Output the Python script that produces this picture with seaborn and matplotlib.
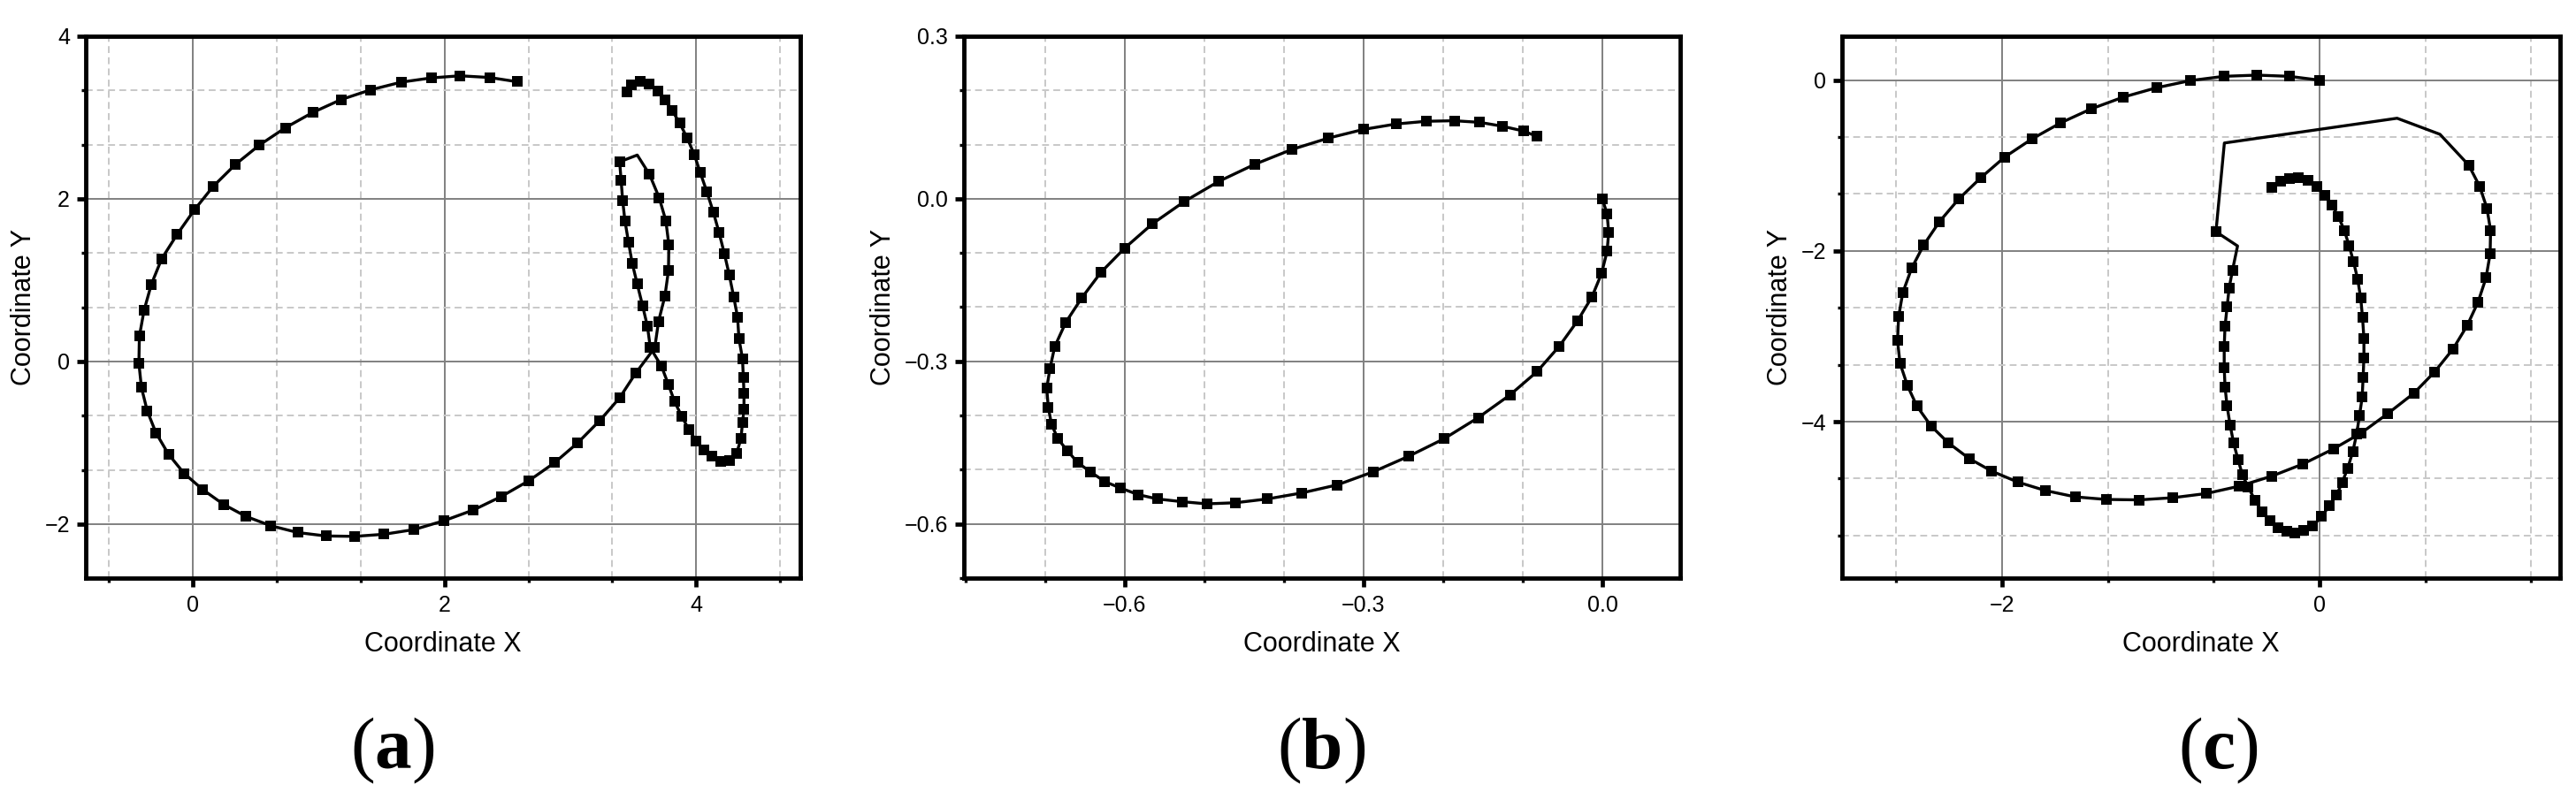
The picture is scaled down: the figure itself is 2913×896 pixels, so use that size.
import pandas as pd
import matplotlib
matplotlib.use("Agg")
import matplotlib.pyplot as plt
import seaborn as sns
from matplotlib.ticker import MultipleLocator, FuncFormatter

# --- panel (a): trajectory, index 50 is a vertex drawn without marker
a_x = [2.576, 2.358, 2.122, 1.895, 1.656, 1.412, 1.177, 0.954, 0.735, 0.528,
       0.339, 0.161, 0.012, -0.124, -0.248, -0.330, -0.388, -0.425, -0.429, -0.409,
       -0.363, -0.293, -0.194, -0.070, 0.078, 0.244, 0.421, 0.619, 0.834, 1.057,
       1.284, 1.519, 1.759, 1.998, 2.230, 2.453, 2.671, 2.874, 3.059, 3.233,
       3.390, 3.517, 3.670, 3.700, 3.751, 3.779, 3.782, 3.758, 3.705, 3.628,
       3.531, 3.391, 3.403, 3.415, 3.433, 3.461, 3.491, 3.531, 3.573, 3.612,
       3.635, 3.724, 3.779, 3.828, 3.884, 3.942, 4.000, 4.058, 4.123, 4.197,
       4.262, 4.321, 4.355, 4.367, 4.379, 4.379, 4.374, 4.367, 4.339, 4.328,
       4.297, 4.262, 4.223, 4.181, 4.135, 4.084, 4.030, 3.984, 3.926, 3.868,
       3.810, 3.751, 3.693, 3.624, 3.554, 3.484, 3.449]
a_y = [3.440, 3.492, 3.513, 3.487, 3.435, 3.340, 3.220, 3.063, 2.874, 2.660,
       2.424, 2.152, 1.864, 1.565, 1.262, 0.948, 0.628, 0.309, -0.021, -0.319,
       -0.607, -0.880, -1.141, -1.377, -1.576, -1.759, -1.906, -2.021, -2.105, -2.147,
       -2.152, -2.126, -2.068, -1.958, -1.827, -1.660, -1.466, -1.246, -1.000, -0.728,
       -0.450, -0.148, 0.168, 0.491, 0.806, 1.118, 1.434, 1.731, 2.014, 2.301,
       2.538, 2.455, 2.222, 1.978, 1.731, 1.470, 1.208, 0.950, 0.688, 0.430,
       0.168, -0.061, -0.287, -0.495, -0.674, -0.842, -0.978, -1.086, -1.165, -1.226,
       -1.219, -1.129, -0.950, -0.753, -0.591, -0.394, -0.197, 0.036, 0.280, 0.545,
       0.796, 1.065, 1.326, 1.584, 1.839, 2.086, 2.330, 2.545, 2.753, 2.932,
       3.082, 3.215, 3.326, 3.412, 3.441, 3.398, 3.315]
a_bare = [50]

# --- panel (b)
b_x = [0.000, 0.006, 0.008, 0.006, -0.001, -0.013, -0.031, -0.054, -0.082, -0.116,
       -0.156, -0.199, -0.243, -0.288, -0.333, -0.378, -0.421, -0.461, -0.497, -0.528,
       -0.559, -0.583, -0.605, -0.625, -0.643, -0.659, -0.672, -0.684, -0.692, -0.696,
       -0.698, -0.694, -0.688, -0.674, -0.654, -0.630, -0.600, -0.565, -0.525, -0.482,
       -0.436, -0.390, -0.344, -0.300, -0.259, -0.221, -0.186, -0.154, -0.126, -0.099,
       -0.082]
b_y = [0.000, -0.028, -0.062, -0.097, -0.138, -0.181, -0.225, -0.272, -0.319, -0.362,
       -0.404, -0.443, -0.475, -0.504, -0.528, -0.543, -0.554, -0.561, -0.563, -0.559,
       -0.554, -0.546, -0.534, -0.522, -0.504, -0.487, -0.465, -0.443, -0.416, -0.385,
       -0.350, -0.314, -0.273, -0.228, -0.183, -0.136, -0.091, -0.046, -0.005, 0.032,
       0.064, 0.091, 0.112, 0.128, 0.138, 0.143, 0.144, 0.141, 0.134, 0.125,
       0.115]
b_bare = []

# --- panel (c): indices 50, 51, 52, 54 are vertices without marker
c_x = [0.000, -0.191, -0.395, -0.603, -0.814, -1.028, -1.236, -1.440, -1.631, -1.812,
       -1.984, -2.132, -2.273, -2.395, -2.494, -2.570, -2.626, -2.652, -2.659, -2.643,
       -2.596, -2.537, -2.448, -2.339, -2.208, -2.066, -1.901, -1.727, -1.539, -1.344,
       -1.137, -0.926, -0.715, -0.505, -0.300, -0.104, 0.086, 0.264, 0.426, 0.593,
       0.725, 0.840, 0.929, 0.998, 1.048, 1.074, 1.077, 1.054, 1.008, 0.939,
       0.758, 0.488, -0.600, -0.653, -0.517,
       -0.549, -0.570, -0.583, -0.596, -0.601, -0.601, -0.596, -0.583, -0.564, -0.542,
       -0.514, -0.486, -0.449, -0.406, -0.363, -0.313, -0.261, -0.207, -0.155, -0.099,
       -0.043, 0.013, 0.060, 0.106, 0.143, 0.177, 0.209, 0.233, 0.251, 0.268,
       0.274, 0.279, 0.279, 0.270, 0.259, 0.240, 0.214, 0.186, 0.156, 0.119,
       0.078, 0.032, -0.019, -0.074, -0.132, -0.192, -0.248, -0.304]
c_y = [0.000, 0.045, 0.059, 0.045, -0.005, -0.089, -0.198, -0.337, -0.500, -0.688,
       -0.901, -1.139, -1.391, -1.658, -1.931, -2.203, -2.490, -2.772, -3.050, -3.317,
       -3.579, -3.817, -4.050, -4.248, -4.431, -4.579, -4.708, -4.807, -4.881, -4.911,
       -4.916, -4.891, -4.842, -4.755, -4.637, -4.495, -4.320, -4.130, -3.910, -3.668,
       -3.416, -3.149, -2.876, -2.599, -2.317, -2.035, -1.762, -1.500, -1.243, -0.995,
       -0.634, -0.446, -0.736, -1.775, -1.942,
       -2.228, -2.436, -2.657, -2.886, -3.124, -3.363, -3.591, -3.816, -4.037, -4.249,
       -4.443, -4.624, -4.770, -4.923, -5.056, -5.158, -5.237, -5.288, -5.305, -5.278,
       -5.220, -5.111, -4.988, -4.862, -4.709, -4.545, -4.351, -4.147, -3.932, -3.714,
       -3.482, -3.250, -3.022, -2.773, -2.555, -2.334, -2.129, -1.942, -1.761, -1.601,
       -1.465, -1.353, -1.250, -1.175, -1.141, -1.148, -1.182, -1.257]
c_bare = [50, 51, 52, 54]

panel_labels = ["a", "b", "c"]

sns.set_theme(style="white")
plt.rcParams['font.family'] = ['Liberation Sans', 'DejaVu Sans']
plt.rcParams['text.color'] = 'black'
plt.rcParams['axes.labelcolor'] = 'black'
plt.rcParams['xtick.color'] = 'black'
plt.rcParams['ytick.color'] = 'black'
plt.rcParams['mathtext.fontset'] = 'custom'
plt.rcParams['mathtext.rm'] = 'Liberation Serif'
plt.rcParams['mathtext.bf'] = 'Liberation Serif:bold'

fig = plt.figure(figsize=(29.13, 8.96), dpi=100)


def tick_fmt(decimals):
    # real minus sign like the original software
    return FuncFormatter(lambda v, pos: f"{v:.{decimals}f}".replace("-", "\u2212")
                         if abs(v) > 1e-9 else f"{0:.{decimals}f}")


# axes boxes in figure fraction, limits and tick steps for each panel
panels = [
    dict(x=a_x, y=a_y, bare=a_bare, rect=[0.0333, 0.2701, 0.2774, 0.6842],
         xlim=(-0.851, 4.827), ylim=(-2.665, 4.0), major=2, minor=2 / 3, dec=0),
    dict(x=b_x, y=b_y, bare=b_bare, rect=[0.3742, 0.2701, 0.2781, 0.6842],
         xlim=(-0.802, 0.098), ylim=(-0.70, 0.30), major=0.3, minor=0.1, dec=1),
    dict(x=c_x, y=c_y, bare=c_bare, rect=[0.7151, 0.2701, 0.2788, 0.6842],
         xlim=(-3.008, 1.516), ylim=(-5.832, 0.515), major=2, minor=2 / 3, dec=0),
]
label_x = [0.1524, 0.5129, 0.8610]

for p, lab, lx in zip(panels, panel_labels, label_x):
    ax = fig.add_axes(p["rect"])
    df = pd.DataFrame({"x": p["x"], "y": p["y"]})
    marked = [i for i in range(len(df)) if i not in p["bare"]]
    sns.lineplot(data=df, x="x", y="y", sort=False, estimator=None, ax=ax,
                 color="black", linewidth=2.4, marker="s", markersize=9,
                 markeredgewidth=0, markevery=marked, zorder=5)

    ax.set_xlim(*p["xlim"])
    ax.set_ylim(*p["ylim"])
    for axis in (ax.xaxis, ax.yaxis):
        axis.set_major_locator(MultipleLocator(p["major"]))
        axis.set_minor_locator(MultipleLocator(p["minor"]))
        axis.set_major_formatter(tick_fmt(p["dec"]))

    ax.set_axisbelow(True)
    ax.grid(which="major", color="#808080", linewidth=1.4, linestyle="-")
    ax.grid(which="minor", color="#c8c8c8", linewidth=1.4, linestyle=(0, (4, 2.5)))

    for s in ax.spines.values():
        s.set_visible(True)
        s.set_color("black")
        s.set_linewidth(3.5)
    ax.tick_params(which="major", direction="out", length=7, width=3.4,
                   labelsize=18, color="black",
                   bottom=True, left=True, top=False, right=False)
    ax.tick_params(axis="x", which="major", pad=7)
    ax.tick_params(axis="y", which="major", pad=6)
    ax.tick_params(which="minor", direction="out", length=3.5, width=2.4,
                   color="black", bottom=True, left=True, top=False, right=False)

    ax.set_xlabel("Coordinate X", fontsize=22, labelpad=12)
    ax.set_ylabel("Coordinate Y", fontsize=22, labelpad=6)

    fig.text(lx, 0.052, r"(${\bf %s}$)" % lab, ha="center", va="center",
             fontsize=60, family="Liberation Serif", color="black")

fig.savefig("out.png", dpi=100)
